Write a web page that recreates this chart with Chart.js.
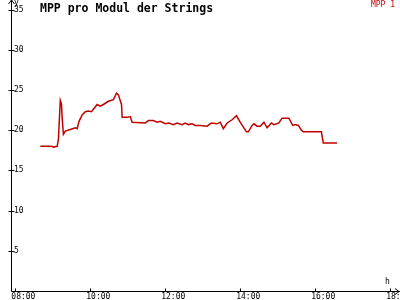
<!DOCTYPE html>
<html>
<head>
<meta charset="utf-8">
<script src="https://cdn.jsdelivr.net/npm/chart.js@4"></script>
<style>
  body { margin: 0; background: #fff; }
  #wrap { width: 400px; height: 300px; }
</style>
</head>
<body>
<div id="wrap"><canvas id="chart" width="400" height="300"></canvas></div>
<script>
// readings (time of day, W)
const times = ['08:40','08:58','09:01','09:07','09:09','09:12','09:14','09:15','09:17','09:20',
  '09:28','09:36','09:39','09:42','09:47','09:52','09:57','10:02','10:05','10:11',
  '10:16','10:21','10:29','10:37','10:42','10:45','10:50','10:51','10:59','11:04',
  '11:07','11:28','11:33','11:41','11:47','11:52','12:00','12:06','12:13','12:19',
  '12:27','12:32','12:37','12:43','12:48','12:56','13:07','13:14','13:23','13:28',
  '13:33','13:39','13:47','13:54','14:00','14:10','14:13','14:19','14:22','14:27',
  '14:32','14:38','14:43','14:50','14:54','15:02','15:07','15:18','15:24','15:28',
  '15:33','15:38','15:41','16:10','16:11','16:13','16:35'];
const mpp1 = [18.0,18.0,17.9,18.0,18.9,23.7,23.2,21.5,19.5,19.9,
  20.1,20.3,20.2,21.1,21.9,22.3,22.4,22.3,22.6,23.2,
  23.0,23.2,23.6,23.8,24.6,24.4,23.2,21.6,21.6,21.7,
  21.0,20.9,21.2,21.2,21.0,21.1,20.8,20.9,20.7,20.9,
  20.7,20.9,20.7,20.8,20.6,20.6,20.5,20.9,20.8,21.0,
  20.2,20.9,21.3,21.8,21.0,19.8,19.8,20.6,20.8,20.5,
  20.5,21.0,20.3,20.9,20.7,20.9,21.5,21.5,20.6,20.7,
  20.6,20.0,19.8,19.8,19.3,18.4,18.4];

const xTicks = [8, 10, 12, 14, 16, 18];
const xTickLabels = ['08:00', '10:00', '12:00', '14:00', '16:00', '18:00'];
const yTicks = [5, 10, 15, 20, 25, 30, 35];

const toHours = t => { const p = t.split(':'); return +p[0] + p[1] / 60; };
const points = times.map((t, i) => ({ x: toHours(t), y: mpp1[i] }));

const tickFont = { family: 'DejaVu Sans Mono', size: 8 };

// axes with arrows, small tick marks, title and legend text
const decor = {
  id: 'decor',
  afterDraw(chart) {
    const c = chart.ctx;
    const a = chart.chartArea;
    const xs = chart.scales.x, ys = chart.scales.y;
    const x0 = a.left + 0.5, y0 = a.bottom + 0.5;
    c.save();
    c.strokeStyle = '#000';
    c.fillStyle = '#000';
    c.lineWidth = 1;
    c.beginPath();
    c.moveTo(x0, y0); c.lineTo(x0, 0);
    c.moveTo(x0 - 3, 4); c.lineTo(x0, 0); c.lineTo(x0 + 3, 4);
    c.moveTo(x0, y0); c.lineTo(400, y0);
    c.moveTo(395, y0 - 3); c.lineTo(399, y0); c.lineTo(395, y0 + 3);
    yTicks.forEach(v => {
      const py = Math.round(ys.getPixelForValue(v)) + 0.5;
      c.moveTo(x0 - 3, py); c.lineTo(x0 + 3, py);
    });
    xTicks.forEach(v => {
      const px = Math.round(xs.getPixelForValue(v)) + 0.5;
      c.moveTo(px, y0); c.lineTo(px, y0 - 3);
    });
    c.stroke();

    c.font = 'bold 11.5px "DejaVu Sans Mono"';
    c.textBaseline = 'alphabetic';
    c.textAlign = 'left';
    c.fillText('MPP pro Modul der Strings', 40, 12);
    c.font = '8px "DejaVu Sans Mono"';
    c.fillText('y', 14, 5);
    c.fillText('h', 385, 284);
    c.fillStyle = '#c00000';
    c.textAlign = 'right';
    c.fillText('MPP 1', 395, 7);
    c.restore();
  }
};

new Chart(document.getElementById('chart'), {
  type: 'line',
  data: {
    datasets: [{
      label: 'MPP 1',
      data: points,
      borderColor: '#c00000',
      borderWidth: 1.5,
      pointRadius: 0,
      tension: 0,
      fill: false
    }]
  },
  options: {
    responsive: false,
    animation: false,
    layout: { padding: { left: 0, right: 2, top: 0, bottom: 0 } },
    plugins: {
      legend: { display: false },
      title: { display: false },
      tooltip: { enabled: false }
    },
    scales: {
      x: {
        type: 'linear',
        min: 7.885,
        max: 18.21,
        grid: { display: false, drawTicks: false },
        border: { display: false },
        afterBuildTicks: s => { s.ticks = xTicks.map(v => ({ value: v })); },
        afterFit: s => { s.height = 9; s.paddingLeft = 0; s.paddingRight = 0; },
        ticks: {
          autoSkip: false,
          maxRotation: 0,
          align: 'start',
          labelOffset: -4,
          padding: 1,
          color: '#000',
          font: tickFont,
          callback: (v) => xTickLabels[xTicks.indexOf(v)]
        }
      },
      y: {
        min: 0,
        max: 36.2,
        grid: { display: false, drawTicks: false },
        border: { display: false },
        afterBuildTicks: s => { s.ticks = yTicks.map(v => ({ value: v })); },
        afterFit: s => { s.width = 11; s.paddingTop = 0; s.paddingBottom = 0; },
        ticks: {
          mirror: true,
          padding: 3,
          color: '#000',
          font: tickFont
        }
      }
    }
  },
  plugins: [decor]
});
</script>
</body>
</html>
